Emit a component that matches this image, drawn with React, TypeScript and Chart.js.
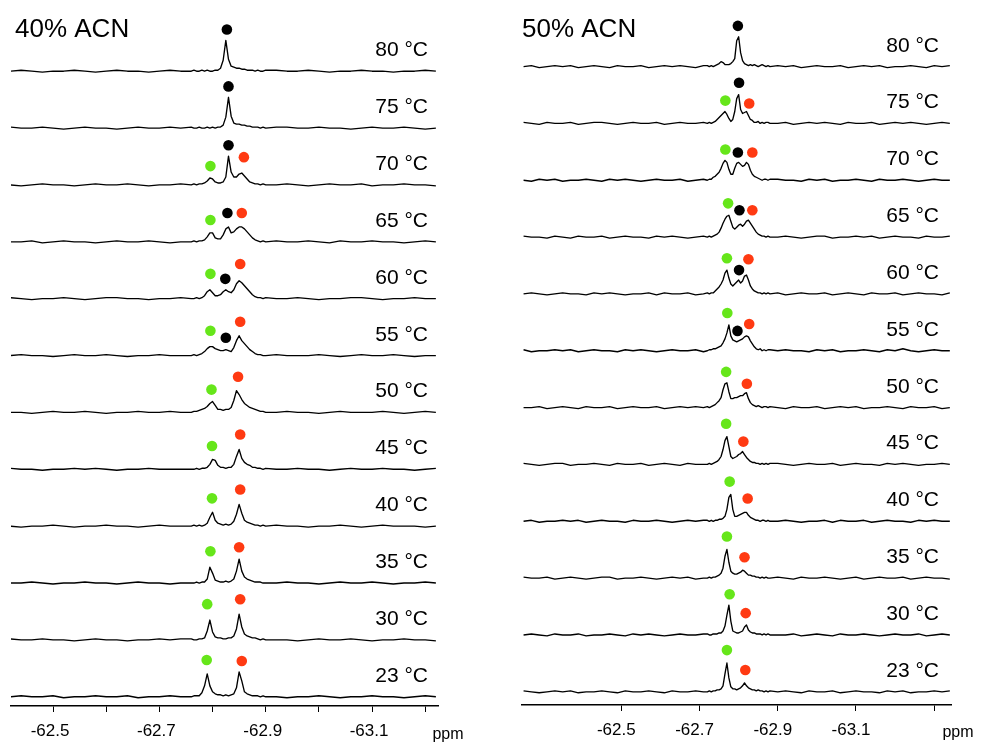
import { useEffect, useRef } from "react";
import { Chart, registerables } from "chart.js";
Chart.register(...registerables);

const FONT = "Arial, 'Liberation Sans', Helvetica, sans-serif";

const TEMPS = ["80", "75", "70", "65", "60", "55", "50", "45", "40", "35", "30", "23"];

const LEFT_PPM = [-62.42,-62.44,-62.46,-62.48,-62.5,-62.52,-62.54,-62.56,-62.58,-62.6,-62.62,-62.64,-62.66,-62.68,-62.7,-62.72,-62.74,
  -62.76,-62.765,-62.77,-62.775,-62.78,-62.785,-62.79,-62.795,-62.8,-62.805,-62.81,-62.815,-62.82,-62.825,-62.83,-62.835,-62.84,-62.845,-62.85,-62.855,-62.86,-62.865,-62.87,-62.875,-62.88,-62.885,-62.89,-62.895,-62.9,
  -62.92,-62.94,-62.96,-62.98,-63.0,-63.02,-63.04,-63.06,-63.08,-63.1,-63.12,-63.14,-63.16,-63.18,-63.2,-63.22];

const RIGHT_PPM = [-62.25,-62.27,-62.29,-62.31,-62.33,-62.35,-62.37,-62.39,-62.41,-62.43,-62.45,-62.47,-62.49,-62.51,-62.53,-62.55,-62.57,-62.59,-62.61,-62.63,-62.65,-62.67,-62.69,-62.71,
  -62.72,-62.725,-62.73,-62.735,-62.74,-62.745,-62.75,-62.755,-62.76,-62.765,-62.77,-62.775,-62.78,-62.785,-62.79,-62.795,-62.8,-62.805,-62.81,-62.815,-62.82,-62.825,-62.83,-62.835,-62.84,-62.845,-62.85,-62.855,-62.86,-62.865,-62.87,-62.875,-62.88,
  -62.9,-62.92,-62.94,-62.96,-62.98,-63.0,-63.02,-63.04,-63.06,-63.08,-63.1,-63.12,-63.14,-63.16,-63.18,-63.2,-63.22,-63.24,-63.26,-63.28,-63.3,-63.32,-63.34];

// 40% ACN intensities
const L80 = [0,1,0,-1,0,0,1,0,-1,0,1,0,0,-1,0,1,0, 0,1,0,0,1,0,1,0,0,1,1,3,11,31,12,5,4,3,3,2,2,1,1,1,0,1,0,0,1, 1,0,0,1,0,-1,0,0,1,0,0,-1,0,0,1,0];
const L75 = [1,0,0,1,0,-1,0,1,0,0,-1,0,1,0,0,1,0, 1,0,0,1,0,0,1,0,1,0,1,1,3,11,31,12,5,4,4,3,3,2,2,1,1,1,0,1,0, 1,1,0,0,1,0,0,-1,0,1,0,0,1,0,-1,0];
const L70 = [0,-1,0,1,0,0,-1,0,1,0,0,1,0,-1,0,0,1, 0,1,0,1,1,2,4,7,6,3,2,2,3,8,29,13,8,8,11,12,9,6,3,2,1,1,0,1,0, 0,1,0,-1,0,1,0,0,1,-1,0,0,1,0,0,-1];
const L65 = [0,0,1,-1,0,1,0,0,-1,0,1,0,0,1,0,-1,0, 0,1,0,1,1,2,5,9,9,4,3,3,7,13,15,9,10,13,15,15,13,10,7,4,2,1,0,1,0, 1,0,0,1,0,-1,1,0,0,1,0,0,-1,0,1,0];
const L60 = [1,0,-1,0,0,1,0,-1,0,1,1,0,0,-1,0,0,1, 0,0,1,0,1,3,7,9,6,3,3,4,7,9,7,6,9,15,18,16,13,10,7,4,2,1,1,0,1, 0,0,1,0,-1,0,0,1,1,0,-1,0,0,1,0,0];
const L55 = [0,1,0,0,-1,0,1,0,0,1,0,-1,0,0,1,0,0, 0,1,0,1,2,4,7,9,9,7,6,5,5,6,5,4,8,15,20,15,12,9,6,4,2,1,1,0,0, 1,0,0,0,1,0,-1,0,1,0,0,1,0,-1,0,0];
const L50 = [0,0,-1,0,1,0,0,1,0,-1,0,0,1,0,0,1,0, 0,1,1,2,3,4,6,9,11,7,3,3,2,3,3,5,12,22,18,13,9,7,5,4,3,2,1,1,0, 0,1,0,0,-1,0,1,0,0,0,1,0,-1,0,1,0];
const L45 = [1,0,0,-1,0,0,1,0,1,0,-1,0,0,1,0,0,0, 0,0,1,0,1,1,2,5,10,9,4,2,2,1,2,2,5,13,20,11,7,5,4,2,2,1,1,0,1, 0,0,1,0,0,-1,0,1,0,0,1,0,0,-1,0,1];
const L40 = [0,-1,0,0,1,0,-1,0,0,1,0,0,-1,0,1,0,0, 0,1,0,1,0,1,3,9,14,6,3,2,1,2,1,2,5,12,22,13,6,4,3,2,1,1,0,1,0, 1,0,0,-1,0,0,1,0,-1,0,1,0,0,0,-1,0];
const L35 = [0,0,1,0,-1,0,0,1,0,0,-1,0,1,0,0,-1,0, 0,0,1,0,1,1,4,16,10,3,2,1,1,2,1,2,4,12,24,12,6,4,3,2,1,1,1,0,0, 0,1,0,0,-1,0,1,0,0,1,0,-1,0,0,1,0];
const L30 = [1,0,0,1,0,0,-1,0,1,0,0,-1,0,0,1,0,1, 1,0,0,1,1,2,9,20,8,3,2,2,1,1,2,2,4,11,26,13,6,4,3,2,2,1,0,1,0, 0,0,-1,0,1,0,0,1,0,-1,0,0,1,0,0,-1];
const L23 = [0,1,0,0,1,-1,0,0,1,0,0,1,-1,0,0,1,0, 0,1,1,1,4,11,23,11,5,3,2,2,1,2,1,2,3,9,25,16,5,3,2,1,1,1,0,1,0, 0,-1,0,0,1,0,-1,0,0,1,0,0,-1,0,1,0];

// 50% ACN intensities
const R80 = [0,1,-1,0,1,0,1,-1,0,1,0,-1,1,0,0,1,-1,0,1,0,1,0,-1,1, 1,0,1,0,1,2,3,5,4,2,2,2,3,5,8,26,30,14,6,3,2,1,2,1,2,1,0,1,2,1,0,1,0, 1,0,1,-1,0,1,0,0,1,-1,0,1,0,1,-1,0,0,1,0,-1,1,0,1];
const R75 = [1,0,-1,1,0,0,1,-1,0,1,1,0,-1,0,1,0,0,1,-1,0,1,0,0,1, 0,1,0,1,2,4,6,8,10,12,9,5,2,4,12,25,29,14,10,11,12,8,4,3,1,1,2,0,1,0,1,1,0, 0,1,-1,0,1,0,1,0,-1,1,0,0,1,-1,0,1,0,1,0,-1,0,1,0];
const R70 = [0,-1,1,0,1,-1,0,0,1,0,-1,1,0,1,0,-1,0,1,0,0,1,-1,0,1, 0,1,1,3,4,6,8,12,17,20,18,11,6,6,12,17,18,16,14,15,18,16,10,6,4,3,2,1,0,1,1,0,1, 1,0,0,-1,1,0,1,-1,0,0,1,0,-1,1,0,0,1,0,-1,0,1,0,0];
const R65 = [1,0,0,-1,1,0,-1,1,0,0,1,-1,0,1,0,0,-1,1,0,1,0,-1,0,1, 0,1,0,1,2,3,5,9,14,18,21,22,16,10,8,10,12,13,11,13,16,17,14,11,8,5,3,2,1,1,0,1,0, 0,1,0,-1,0,1,1,-1,0,0,1,0,1,-1,0,1,0,0,-1,1,0,0,1];
const R60 = [0,1,0,-1,0,1,0,0,-1,1,0,1,0,-1,0,0,1,-1,1,0,0,1,-1,0, 1,0,1,1,3,5,7,10,14,21,24,16,10,8,10,12,14,11,13,18,19,14,8,5,3,2,1,1,0,1,0,1,0, 1,-1,0,1,0,0,1,-1,0,1,0,-1,1,0,0,1,-1,0,1,0,0,-1,1];
const R55 = [1,-1,0,0,1,0,1,-1,0,1,0,0,-1,1,0,1,0,-1,0,1,0,0,1,-1, 0,1,1,2,2,3,4,5,8,12,18,26,15,11,10,9,10,11,12,14,15,14,10,7,4,2,1,2,0,1,0,1,1, 0,1,0,0,-1,1,0,1,-1,0,0,1,0,-1,1,0,2,0,-1,0,1,0,0];
const R50 = [0,0,1,-1,0,1,0,-1,1,0,0,1,-1,0,1,0,0,1,-1,0,1,0,1,0, 1,0,1,2,3,5,7,10,18,24,25,16,9,9,10,10,11,12,12,14,15,9,5,3,2,1,2,1,0,1,1,0,1, 0,-1,1,0,0,1,-1,0,1,0,1,-1,0,0,1,0,-1,1,0,0,1,-1,0];
const R45 = [1,0,-1,0,1,1,-1,0,0,1,0,-1,1,0,0,1,-1,0,1,0,-1,1,0,0, 0,1,0,1,2,3,5,8,15,24,28,18,8,6,7,8,10,11,13,10,7,5,3,2,2,1,1,0,1,0,1,0,1, 1,0,-1,0,1,0,0,1,-1,0,1,0,0,-1,1,0,1,0,-1,0,0,1,0];
const R40 = [0,1,-1,0,0,1,0,1,-1,0,1,0,0,-1,1,0,0,1,0,-1,0,1,0,1, 1,0,1,0,1,1,2,2,3,5,12,24,27,12,5,5,6,7,8,9,9,6,4,3,2,1,1,0,1,1,0,1,0, 0,1,0,-1,0,0,1,-1,1,0,0,1,-1,0,1,0,0,-1,1,0,1,0,0];
const R35 = [1,0,0,1,-1,0,1,0,-1,0,1,1,-1,0,0,1,0,-1,0,1,0,1,-1,0, 0,1,0,1,1,2,3,5,10,22,29,16,7,5,4,4,5,6,8,7,5,3,3,2,2,1,1,0,1,0,1,0,0, 1,0,-1,1,0,0,1,0,-1,0,1,-1,0,1,0,0,1,-1,0,1,0,0,-1];
const R30 = [0,1,0,-1,1,0,0,1,-1,0,0,1,0,-1,1,0,1,0,-1,0,1,0,0,1, 1,0,0,1,1,1,2,2,4,9,20,30,14,4,3,2,2,3,4,8,10,5,3,2,2,1,1,1,0,1,0,1,0, 0,0,1,-1,0,1,0,-1,1,0,0,1,0,-1,0,1,0,0,1,-1,0,1,0];
const R23 = [1,0,-1,0,1,0,1,-1,0,0,1,0,-1,1,0,0,1,0,-1,1,0,0,1,0, 0,1,0,1,1,2,2,3,6,18,29,14,5,3,3,2,3,4,6,9,6,4,3,2,2,1,2,1,1,0,1,0,1, 0,1,0,-1,1,0,0,1,-1,0,1,0,0,-1,1,0,1,-1,0,0,1,0,1];

const LEFT_SPECTRA = [L80, L75, L70, L65, L60, L55, L50, L45, L40, L35, L30, L23];
const RIGHT_SPECTRA = [R80, R75, R70, R65, R60, R55, R50, R45, R40, R35, R30, R23];

// peak markers: [spectrum index (0 = 80 °C), ppm, height above baseline, colour key]
const LEFT_DOTS: [number, number, number, string][] = [
  [0,-62.827,42,"k"],
  [1,-62.830,42,"k"],
  [2,-62.796,19,"g"],[2,-62.830,40,"k"],[2,-62.859,28,"r"],
  [3,-62.796,22,"g"],[3,-62.828,29,"k"],[3,-62.855,29,"r"],
  [4,-62.796,25,"g"],[4,-62.824,20,"k"],[4,-62.852,35,"r"],
  [5,-62.796,25,"g"],[5,-62.825,18,"k"],[5,-62.852,34,"r"],
  [6,-62.798,23,"g"],[6,-62.848,36,"r"],
  [7,-62.799,23.5,"g"],[7,-62.852,35,"r"],
  [8,-62.799,28,"g"],[8,-62.852,37,"r"],
  [9,-62.796,32,"g"],[9,-62.850,36,"r"],
  [10,-62.790,36,"g"],[10,-62.852,41,"r"],
  [11,-62.789,37,"g"],[11,-62.855,36,"r"],
];
const RIGHT_DOTS: [number, number, number, string][] = [
  [0,-62.798,41,"k"],
  [1,-62.766,23,"g"],[1,-62.801,41,"k"],[1,-62.827,20,"r"],
  [2,-62.766,31,"g"],[2,-62.798,28,"k"],[2,-62.835,28,"r"],
  [3,-62.773,34,"g"],[3,-62.802,27,"k"],[3,-62.835,27,"r"],
  [4,-62.770,36,"g"],[4,-62.801,24,"k"],[4,-62.825,35,"r"],
  [5,-62.771,38,"g"],[5,-62.797,20,"k"],[5,-62.827,27,"r"],
  [6,-62.768,36,"g"],[6,-62.821,24,"r"],
  [7,-62.768,41,"g"],[7,-62.812,23,"r"],
  [8,-62.777,40,"g"],[8,-62.823,23,"r"],
  [9,-62.770,42,"g"],[9,-62.815,21,"r"],
  [10,-62.777,41,"g"],[10,-62.818,22,"r"],
  [11,-62.770,42,"g"],[11,-62.817,22,"r"],
];

const LEFT_TICKS = [-62.5, -62.6, -62.7, -62.8, -62.9, -63.0, -63.1, -63.2];
const LEFT_TICK_LABELS = ["-62.5", "", "-62.7", "", "-62.9", "", "-63.1", ""];
const RIGHT_TICKS = [-62.5, -62.7, -62.9, -63.1, -63.3];
const RIGHT_TICK_LABELS = ["-62.5", "-62.7", "-62.9", "-63.1", ""];

const COLORS: Record<string, string> = { g: "#66e61a", r: "#ff3a12", k: "#000000" };

type Panel = {
  title: string;
  ppm: number[];
  spectra: number[][];
  dots: [number, number, number, string][];
  ticks: number[];
  tickLabels: string[];
  min: number;
  max: number;
  padL: number;
  padR: number;
  axisH: number;
  base0: number;
  step: number;
  titleX: number;
  labelX: number;
  ppmX: number;
  ppmY: number;
  labelShift: number;
};

const W = 491;
const H = 743;

const PANELS: Panel[] = [
  {
    title: "40% ACN", ppm: LEFT_PPM, spectra: LEFT_SPECTRA, dots: LEFT_DOTS,
    ticks: LEFT_TICKS, tickLabels: LEFT_TICK_LABELS, min: -63.224, max: -62.421,
    padL: 11, padR: 53, axisH: 37, base0: 9.3, step: 57.3,
    titleX: 15, labelX: 428, ppmX: 448, ppmY: 735, labelShift: -3,
  },
  {
    title: "50% ACN", ppm: RIGHT_PPM, spectra: RIGHT_SPECTRA, dots: RIGHT_DOTS,
    ticks: RIGHT_TICKS, tickLabels: RIGHT_TICK_LABELS, min: -63.343, max: -62.246,
    padL: 31, padR: 31, axisH: 38, base0: 13.3, step: 57.27,
    titleX: 31, labelX: 448, ppmX: 467, ppmY: 733, labelShift: -5,
  },
];

function offsetOf(p: Panel, i: number) {
  const k = p.spectra.length - 1 - i;
  return p.base0 + p.step * k;
}

function buildChart(canvas: HTMLCanvasElement, p: Panel) {
  const datasets: any[] = [];
  (["g", "r", "k"] as const).forEach((c) => {
    datasets.push({
      type: "line",
      showLine: false,
      data: p.dots.filter((d) => d[3] === c).map((d) => ({ x: d[1], y: offsetOf(p, d[0]) + d[2] })),
      pointRadius: 5.3,
      pointBorderWidth: 0,
      pointBackgroundColor: COLORS[c],
      pointBorderColor: COLORS[c],
      borderColor: COLORS[c],
    });
  });
  p.spectra.forEach((vals, i) => {
    const off = offsetOf(p, i);
    datasets.push({
      type: "line",
      data: p.ppm.map((x, j) => ({ x, y: off + (vals[j] ?? 0) })),
      borderColor: "#000",
      borderWidth: 1.35,
      pointRadius: 0,
      fill: false,
      tension: 0,
      borderJoinStyle: "round",
    });
  });

  const annot = {
    id: "annot",
    afterDraw(chart: any) {
      const ctx = chart.ctx as CanvasRenderingContext2D;
      const ys = chart.scales.y;
      ctx.save();
      ctx.fillStyle = "#000";
      ctx.textBaseline = "middle";
      ctx.textAlign = "left";
      ctx.font = `26px ${FONT}`;
      ctx.fillText(p.title, p.titleX, 30);
      ctx.font = `21px ${FONT}`;
      ctx.textAlign = "right";
      TEMPS.forEach((t, i) => {
        ctx.fillText(`${t} °C`, p.labelX, ys.getPixelForValue(offsetOf(p, i) + 21));
      });
      ctx.font = `16px ${FONT}`;
      ctx.textAlign = "center";
      ctx.fillText("ppm", p.ppmX, p.ppmY);
      ctx.restore();
    },
  };

  return new Chart(canvas, {
    type: "line",
    data: { datasets },
    options: {
      responsive: false,
      animation: false,
      devicePixelRatio: 1,
      layout: { padding: { left: p.padL, right: p.padR, top: 0, bottom: 0 } },
      plugins: { legend: { display: false }, tooltip: { enabled: false } },
      events: [],
      scales: {
        x: {
          type: "linear",
          reverse: true,
          min: p.min,
          max: p.max,
          afterBuildTicks: (scale: any) => {
            scale.ticks = p.ticks.map((v) => ({ value: v }));
          },
          afterFit: (scale: any) => {
            scale.height = p.axisH;
          },
          ticks: {
            autoSkip: false,
            maxRotation: 0,
            minRotation: 0,
            padding: 9,
            labelOffset: p.labelShift,
            color: "#000",
            font: { family: FONT, size: 17 },
            callback: (_v: any, idx: number) => p.tickLabels[idx] ?? "",
          },
          grid: { display: true, drawOnChartArea: false, drawTicks: true, tickLength: 6, color: "#000", lineWidth: 1 },
          border: { display: true, color: "#000", width: 1.5 },
        },
        y: {
          type: "linear",
          display: false,
          min: 0,
          max: H - p.axisH,
        },
      },
    } as any,
    plugins: [annot],
  });
}

export default function App() {
  const leftRef = useRef<HTMLCanvasElement>(null);
  const rightRef = useRef<HTMLCanvasElement>(null);

  useEffect(() => {
    const charts: Chart[] = [];
    if (leftRef.current) charts.push(buildChart(leftRef.current, PANELS[0]));
    if (rightRef.current) charts.push(buildChart(rightRef.current, PANELS[1]));
    return () => charts.forEach((c) => c.destroy());
  }, []);

  return (
    <div style={{ position: "absolute", left: 0, top: 0, width: 982, height: 743, background: "#fff" }}>
      <canvas ref={leftRef} width={W} height={H} style={{ position: "absolute", left: 0, top: 0, width: W, height: H }} />
      <canvas ref={rightRef} width={W} height={H} style={{ position: "absolute", left: W, top: 0, width: W, height: H }} />
    </div>
  );
}
